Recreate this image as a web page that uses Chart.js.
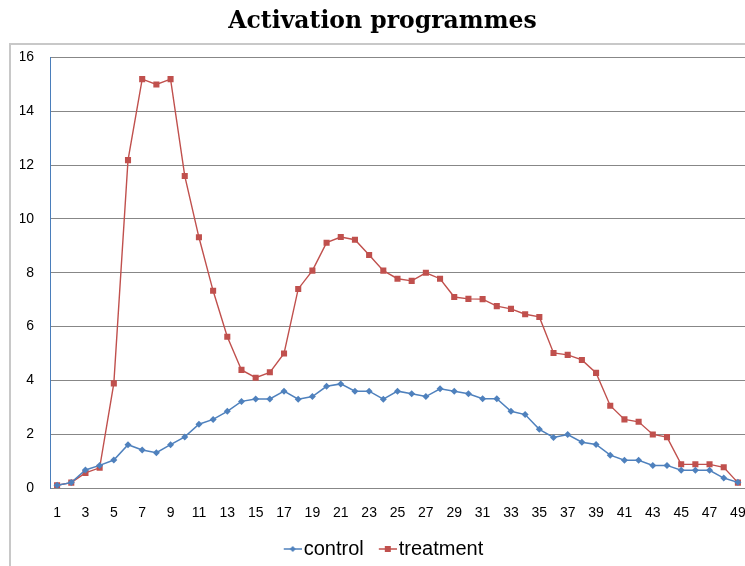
<!DOCTYPE html>
<html>
<head>
<meta charset="utf-8">
<script src="https://cdn.jsdelivr.net/npm/chart.js@4/dist/chart.umd.min.js"></script>
<style>
  html, body { margin: 0; padding: 0; background: #ffffff; overflow: hidden; }
  #wrap { position: relative; width: 745px; height: 566px; }
</style>
</head>
<body>
<div id="wrap"><canvas id="c" width="745" height="566"></canvas></div>
<script>
const categories = ["1","2","3","4","5","6","7","8","9","10","11","12","13","14","15","16","17","18","19","20","21","22","23","24","25","26","27","28","29","30","31","32","33","34","35","36","37","38","39","40","41","42","43","44","45","46","47","48","49"];
const controlValues = [0.1,0.2,0.67,0.84,1.04,1.61,1.41,1.31,1.61,1.9,2.37,2.55,2.85,3.22,3.31,3.31,3.6,3.3,3.4,3.78,3.87,3.6,3.6,3.3,3.6,3.5,3.4,3.69,3.6,3.5,3.32,3.32,2.85,2.73,2.18,1.88,1.99,1.7,1.62,1.22,1.03,1.03,0.84,0.84,0.66,0.66,0.66,0.37,0.21];
const treatmentValues = [0.1,0.2,0.56,0.75,3.89,12.19,15.2,15.0,15.2,11.6,9.32,7.33,5.62,4.39,4.1,4.3,5.0,7.4,8.08,9.12,9.33,9.23,8.66,8.08,7.78,7.7,8.0,7.78,7.1,7.03,7.02,6.76,6.66,6.46,6.36,5.02,4.95,4.76,4.28,3.06,2.55,2.46,1.99,1.89,0.88,0.88,0.88,0.77,0.2];
const yTicks = [0,2,4,6,8,10,12,14,16];

const BLUE = '#4F81BD';
const RED = '#C0504D';

function legendSymbol(color, style) {
  const W = 28, H = 12;
  const cv = document.createElement('canvas');
  cv.width = W; cv.height = H;
  const g = cv.getContext('2d');
  const x0 = W - 18, cy = H / 2;
  g.strokeStyle = color; g.lineWidth = 1.5;
  g.beginPath(); g.moveTo(x0, cy); g.lineTo(W, cy); g.stroke();
  g.fillStyle = color;
  const cx = x0 + 9;
  if (style === 'diamond') {
    g.beginPath(); g.moveTo(cx, cy - 3); g.lineTo(cx + 3, cy); g.lineTo(cx, cy + 3); g.lineTo(cx - 3, cy); g.closePath(); g.fill();
  } else {
    g.fillRect(cx - 3, cy - 3, 6, 6);
  }
  return cv;
}
const symControl = legendSymbol(BLUE, 'diamond');
const symTreatment = legendSymbol(RED, 'square');

const framePlugin = {
  id: 'frame',
  beforeDraw(chart) {
    const ctx = chart.ctx;
    ctx.save();
    ctx.strokeStyle = '#c8c8c8';
    ctx.lineWidth = 2;
    ctx.beginPath();
    ctx.moveTo(10, 566); ctx.lineTo(10, 44); ctx.lineTo(745, 44);
    ctx.stroke();
    ctx.restore();
  }
};

new Chart(document.getElementById('c'), {
  type: 'line',
  data: {
    labels: categories,
    datasets: [
      { label: 'control', data: controlValues, borderColor: BLUE, backgroundColor: BLUE,
        borderWidth: 1.5, pointStyle: 'rectRot', pointRadius: 3.5, pointBorderWidth: 0, tension: 0 },
      { label: 'treatment', data: treatmentValues, borderColor: RED, backgroundColor: RED,
        borderWidth: 1.4, pointStyle: 'rect', pointRadius: 4.3, pointBorderWidth: 0, tension: 0 }
    ]
  },
  options: {
    responsive: false,
    animation: false,
    devicePixelRatio: 1,
    layout: { autoPadding: false, padding: { left: 20, right: 0, top: 0, bottom: -3 } },
    plugins: {
      title: {
        display: true,
        text: 'Activation programmes',
        color: '#000000',
        font: { family: 'DejaVu Serif', weight: 'bold', size: 23.5 },
        padding: { top: 8, bottom: 21.4 }
      },
      legend: {
        position: 'bottom',
        labels: {
          usePointStyle: true,
          pointStyleWidth: 12,
          padding: 13,
          color: '#000000',
          font: { family: 'Liberation Sans', size: 20 },
          generateLabels() {
            return [
              { text: 'control', pointStyle: symControl, fillStyle: BLUE, strokeStyle: BLUE, lineWidth: 0, datasetIndex: 0, fontColor: '#000' },
              { text: 'treatment', pointStyle: symTreatment, fillStyle: RED, strokeStyle: RED, lineWidth: 0, datasetIndex: 1, fontColor: '#000' }
            ];
          }
        }
      },
      tooltip: { enabled: false }
    },
    scales: {
      x: {
        type: 'category',
        offset: true,
        grid: { display: false, drawTicks: false },
        border: { display: true, color: '#878787', width: 1 },
        ticks: {
          autoSkip: false, maxRotation: 0, minRotation: 0, padding: 17,
          color: '#000000', font: { family: 'Liberation Sans', size: 14 },
          callback(v, i) { return i % 2 === 0 ? categories[i] : null; }
        },
        afterFit(s) { s.height = 38; s.paddingLeft = 0; s.paddingRight = 0; }
      },
      y: {
        min: 0, max: 16,
        afterBuildTicks(s) { s.ticks = yTicks.map(v => ({ value: v })); },
        grid: { color: '#878787', lineWidth: 1, drawTicks: false },
        border: { display: true, color: '#4a7ebb', width: 1 },
        ticks: { padding: 16, color: '#000000', font: { family: 'Liberation Sans', size: 14 } },
        afterFit(s) { s.width = 30; s.paddingTop = 0; s.paddingBottom = 0; }
      }
    }
  },
  plugins: [framePlugin]
});
</script>
</body>
</html>
